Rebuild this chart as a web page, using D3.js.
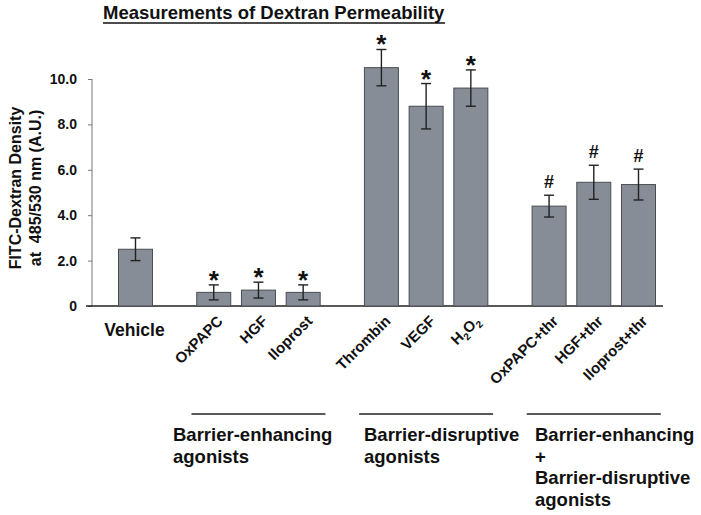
<!DOCTYPE html>
<html><head><meta charset="utf-8">
<script src="https://cdn.jsdelivr.net/npm/d3@7"></script>
<style>body{margin:0;background:#fff}svg{display:block}text{font-family:"Liberation Sans",Arial,sans-serif;font-weight:bold;fill:#111}</style>
</head><body><svg id="c" width="701" height="515"></svg>
<script>
const categories = ["Vehicle","OxPAPC","HGF","Iloprost","Thrombin","VEGF","H2O2","OxPAPC+thr","HGF+thr","Iloprost+thr"];
const groupOf = [0,1,1,1,2,2,2,3,3,3];
const values = [2.5,0.6,0.7,0.6,10.5,8.8,9.6,4.4,5.45,5.35];
const errors = [0.5,0.33,0.35,0.33,0.8,1.0,0.8,0.48,0.75,0.68];
const marks = ["","*","*","*","*","*","*","#","#","#"];
const yTicks = [0,2,4,6,8,10];
const groupLabels = [
  {from:1,to:3,lines:["Barrier-enhancing","agonists"]},
  {from:4,to:6,lines:["Barrier-disruptive","agonists"]},
  {from:7,to:9,lines:["Barrier-enhancing","+","Barrier-disruptive","agonists"]}
];
const title = "Measurements of Dextran Permeability";
const yLabel = ["FITC-Dextran Density","at  485/530 nm (A.U.)"];

const svg = d3.select("#c");
const slot = (i) => i + groupOf[i] * 0.75;
const x = d3.scaleLinear().domain([0, slot(9)]).range([135.5, 638.5]);
const y = d3.scaleLinear().domain([0,10]).range([306,79]);
const bw = 34;

const t = svg.append("text").attr("x",103).attr("y",19).attr("font-size",18.5).text(title);
const tb = t.node().getBBox();
svg.append("line").attr("x1",tb.x).attr("x2",tb.x+tb.width).attr("y1",23).attr("y2",23).attr("stroke","#111").attr("stroke-width",1.6);

const ya = svg.append("g").attr("transform","translate(92,0)")
  .call(d3.axisLeft(y).tickValues(yTicks).tickSize(4).tickPadding(11).tickFormat(d=> d===0 ? "0" : d3.format(".1f")(d)));
ya.select(".domain").attr("stroke","#777").attr("d","M0,306V79");
ya.selectAll(".tick line").attr("stroke","#777");
ya.selectAll(".tick text").attr("font-size",14).attr("font-family","Liberation Sans, Arial, sans-serif").attr("font-weight","bold").attr("fill","#111");

svg.append("line").attr("x1",86).attr("x2",663).attr("y1",y(0)).attr("y2",y(0)).attr("stroke","#222").attr("stroke-width",1.3);

const yl = svg.append("g").attr("transform","translate(21,188)").append("text").attr("transform","rotate(-90)").attr("text-anchor","middle").attr("font-size",16);
yl.append("tspan").attr("x",0).attr("dy",0).text(yLabel[0]);
yl.append("tspan").attr("x",0).attr("dy",20).style("white-space","pre").text(yLabel[1]);

const idx = d3.range(categories.length);
svg.selectAll("rect.bar").data(idx).join("rect").attr("class","bar")
  .attr("x",i=>x(slot(i))-bw/2).attr("width",bw)
  .attr("y",i=>y(values[i])).attr("height",i=>y(0)-y(values[i]))
  .attr("fill","#878d96").attr("stroke","#4a4d52").attr("stroke-width",1);

const eg = svg.selectAll("g.err").data(idx).join("g").attr("class","err");
eg.append("line").attr("x1",i=>x(slot(i))).attr("x2",i=>x(slot(i)))
  .attr("y1",i=>y(values[i]+errors[i])).attr("y2",i=>y(values[i]-errors[i])).attr("stroke","#222").attr("stroke-width",1.4);
eg.append("line").attr("x1",i=>x(slot(i))-5).attr("x2",i=>x(slot(i))+5)
  .attr("y1",i=>y(values[i]+errors[i])).attr("y2",i=>y(values[i]+errors[i])).attr("stroke","#222").attr("stroke-width",1.4);
eg.append("line").attr("x1",i=>x(slot(i))-5).attr("x2",i=>x(slot(i))+5)
  .attr("y1",i=>y(values[i]-errors[i])).attr("y2",i=>y(values[i]-errors[i])).attr("stroke","#222").attr("stroke-width",1.4);

svg.selectAll("text.mark").data(idx.filter(i=>marks[i])).join("text").attr("class","mark")
  .attr("x",i=>x(slot(i))).attr("y",i=>y(values[i]+errors[i]) - (marks[i]==="*"?-4:7))
  .attr("text-anchor","middle").attr("font-size",i=>marks[i]==="*"?26:18).text(i=>marks[i]);

svg.append("text").attr("x",x(slot(0))-1).attr("y",336).attr("text-anchor","middle").attr("font-size",17.5).text(categories[0]);

idx.slice(1).forEach(i=>{
  const g = svg.append("g").attr("transform","translate(" + (x(slot(i))+10) + ",322)");
  const tx = g.append("text").attr("text-anchor","end").attr("font-size",15).attr("transform","rotate(-45)");
  if (categories[i]==="H2O2") {
    tx.append("tspan").text("H");
    tx.append("tspan").attr("font-size",10).attr("dy",4).text("2");
    tx.append("tspan").attr("dy",-4).text("O");
    tx.append("tspan").attr("font-size",10).attr("dy",4).text("2");
  } else tx.text(categories[i]);
});

groupLabels.forEach((g,k)=>{
  const cx = (x(slot(g.from))+x(slot(g.to)))/2;
  svg.append("line").attr("x1",cx-67).attr("x2",cx+67).attr("y1",414).attr("y2",414).attr("stroke","#222").attr("stroke-width",1.6);
  const lx = k===0 ? 173 : (k===1 ? 364 : 535);
  g.lines.forEach((ln,j)=>{
    svg.append("text").attr("x",lx).attr("y",441 + j*21.5).attr("font-size",18.5).text(ln);
  });
});
</script></body></html>
